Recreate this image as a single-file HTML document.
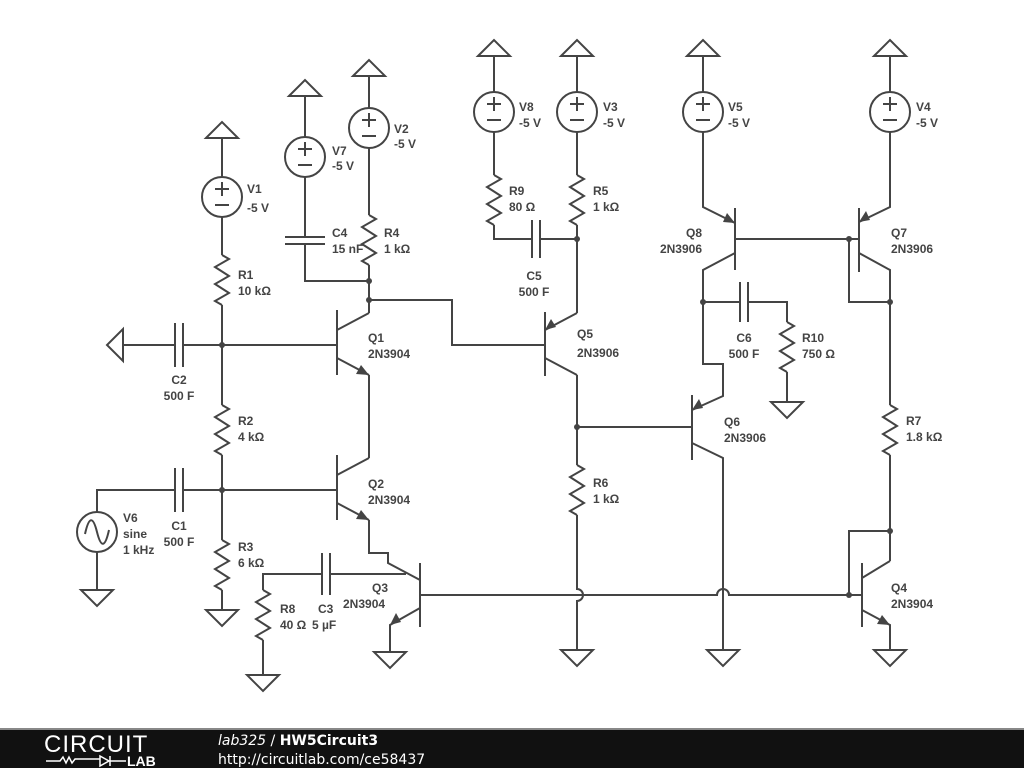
<!DOCTYPE html>
<html><head><meta charset="utf-8"><style>
html,body{margin:0;padding:0;background:#fff;width:1024px;height:768px;overflow:hidden}
svg{display:block}
text{font-family:"Liberation Sans",sans-serif;font-size:12px;font-weight:bold;fill:#444}
</style></head><body>
<svg width="1024" height="768" viewBox="0 0 1024 768" xmlns="http://www.w3.org/2000/svg">
<defs>
<polyline id="r" points="0,0 7,4 -7,12 7,21 -7,29 7,38 -7,46 0,50" fill="none"/>
<polygon id="sup" points="-16,16 0,0 16,16" fill="#fff"/>
<polygon id="gnd" points="-16,0 16,0 0,16" fill="#fff"/>
<g id="src"><circle cx="0" cy="0" r="20" fill="#fff"/><line x1="-7" y1="-8" x2="7" y2="-8"/><line x1="0" y1="-15" x2="0" y2="-1"/><line x1="-7" y1="8" x2="7" y2="8"/></g>
</defs>
<g stroke="#444" stroke-width="2" fill="none">
<use href="#sup" x="222" y="122"/><line x1="222" y1="138" x2="222" y2="177"/><use href="#src" x="222" y="197"/><line x1="222" y1="217" x2="222" y2="255"/><use href="#r" x="222" y="255"/>
<line x1="222" y1="305" x2="222" y2="405"/><use href="#r" x="222" y="405"/><line x1="222" y1="455" x2="222" y2="540"/><use href="#r" x="222" y="540"/><line x1="222" y1="590" x2="222" y2="610"/><use href="#gnd" x="222" y="610"/>
<use href="#sup" x="305" y="80"/><line x1="305" y1="96" x2="305" y2="137"/><use href="#src" x="305" y="157"/><line x1="305" y1="177" x2="305" y2="237"/>
<line x1="285" y1="237" x2="325" y2="237"/><line x1="285" y1="244" x2="325" y2="244"/><polyline points="305,244 305,281 369,281"/>
<use href="#sup" x="369" y="60"/><line x1="369" y1="76" x2="369" y2="108"/><use href="#src" x="369" y="128"/><line x1="369" y1="148" x2="369" y2="215"/><use href="#r" x="369" y="215"/><line x1="369" y1="265" x2="369" y2="313"/>
<polyline points="369,300 452,300 452,345 545,345"/>
<line x1="337" y1="310" x2="337" y2="375"/><line x1="222" y1="345" x2="337" y2="345"/><line x1="337" y1="330" x2="369" y2="313"/><line x1="337" y1="358" x2="369" y2="375"/><line x1="369" y1="375" x2="369" y2="458"/>
<use href="#gnd" transform="translate(123,345) rotate(90)"/><line x1="123" y1="345" x2="175" y2="345"/><line x1="175" y1="323" x2="175" y2="367"/><line x1="183" y1="323" x2="183" y2="367"/><line x1="183" y1="345" x2="222" y2="345"/>
<line x1="337" y1="455" x2="337" y2="520"/><line x1="222" y1="490" x2="337" y2="490"/><line x1="337" y1="475" x2="369" y2="458"/><line x1="337" y1="503" x2="369" y2="520"/><polyline points="369,520 369,553 388,553 388,563 420,580"/>
<polyline points="175,490 97,490 97,512"/><line x1="175" y1="468" x2="175" y2="512"/><line x1="183" y1="468" x2="183" y2="512"/><line x1="183" y1="490" x2="222" y2="490"/>
<circle cx="97" cy="532" r="20" fill="#fff"/><path d="M85,534 C89,516 93,516 97,532 C101,548 105,548 109,530"/><line x1="97" y1="552" x2="97" y2="590"/><use href="#gnd" x="97" y="590"/>
<line x1="420" y1="563" x2="420" y2="627"/><polyline points="420,608 390,625 390,652"/><use href="#gnd" x="390" y="652"/>
<polyline points="263,590 263,574 322,574"/><line x1="322" y1="553" x2="322" y2="595"/><line x1="330" y1="553" x2="330" y2="595"/><line x1="330" y1="574" x2="406" y2="574"/>
<use href="#r" x="263" y="590"/><line x1="263" y1="640" x2="263" y2="675"/><use href="#gnd" x="263" y="675"/>
<path d="M420,595 H717 A6,6 0 0 1 729,595 H862"/>
<use href="#sup" x="494" y="40"/><line x1="494" y1="56" x2="494" y2="92"/><use href="#src" x="494" y="112"/><line x1="494" y1="132" x2="494" y2="175"/><use href="#r" x="494" y="175"/><polyline points="494,225 494,239 532,239"/>
<line x1="532" y1="220" x2="532" y2="258"/><line x1="540" y1="220" x2="540" y2="258"/><line x1="540" y1="239" x2="577" y2="239"/>
<use href="#sup" x="577" y="40"/><line x1="577" y1="56" x2="577" y2="92"/><use href="#src" x="577" y="112"/><line x1="577" y1="132" x2="577" y2="175"/><use href="#r" x="577" y="175"/><line x1="577" y1="225" x2="577" y2="313"/>
<line x1="545" y1="312" x2="545" y2="376"/><line x1="545" y1="330" x2="577" y2="313"/><line x1="545" y1="358" x2="577" y2="375"/><line x1="577" y1="375" x2="577" y2="465"/><use href="#r" x="577" y="465"/><path d="M577,515 V589 A6,6 0 0 1 577,601 V650"/><use href="#gnd" x="577" y="650"/>
<line x1="577" y1="427" x2="692" y2="427"/><line x1="692" y1="395" x2="692" y2="460"/><polyline points="692,410 723,396 723,364 703,364 703,270 735,253"/><polyline points="692,443 723,458 723,650"/><use href="#gnd" x="723" y="650"/>
<line x1="703" y1="302" x2="740" y2="302"/><line x1="740" y1="282" x2="740" y2="322"/><line x1="748" y1="282" x2="748" y2="322"/><polyline points="748,302 787,302 787,322"/><use href="#r" x="787" y="322"/><line x1="787" y1="372" x2="787" y2="402"/><use href="#gnd" x="787" y="402"/>
<use href="#sup" x="703" y="40"/><line x1="703" y1="56" x2="703" y2="92"/><use href="#src" x="703" y="112"/><polyline points="703,132 703,207 735,223"/><line x1="735" y1="208" x2="735" y2="270"/><line x1="735" y1="239" x2="859" y2="239"/>
<use href="#sup" x="890" y="40"/><line x1="890" y1="56" x2="890" y2="92"/><use href="#src" x="890" y="112"/><polyline points="890,132 890,207 859,222"/><line x1="859" y1="208" x2="859" y2="272"/><polyline points="859,253 890,270 890,405"/><polyline points="849,239 849,302 890,302"/><use href="#r" x="890" y="405"/><line x1="890" y1="455" x2="890" y2="561"/>
<polyline points="890,531 849,531 849,595"/><line x1="862" y1="563" x2="862" y2="627"/><line x1="862" y1="578" x2="890" y2="561"/><polyline points="862,610 890,625 890,650"/><use href="#gnd" x="890" y="650"/>
</g>
<g fill="#444">
<circle cx="222" cy="345" r="3"/><circle cx="222" cy="490" r="3"/><circle cx="369" cy="281" r="3"/><circle cx="369" cy="300" r="3"/><circle cx="577" cy="239" r="3"/><circle cx="577" cy="427" r="3"/><circle cx="703" cy="302" r="3"/><circle cx="849" cy="239" r="3"/><circle cx="890" cy="302" r="3"/><circle cx="890" cy="531" r="3"/><circle cx="849" cy="595" r="3"/>
<polygon points="369,375 356,374 361,365"/><polygon points="369,520 356,519 361,510"/><polygon points="390,625 396,613 401,622"/>
<polygon points="545,330 551,319 556,327"/><polygon points="692,410 699,399 703,408"/><polygon points="735,223 723,222 727,213"/><polygon points="859,222 866,211 870,220"/><polygon points="890,625 877,624 882,615"/>
</g>
<text x="247" y="193">V1</text><text x="247" y="212">-5 V</text>
<text x="238" y="279">R1</text><text x="238" y="295">10 kΩ</text>
<text x="238" y="425">R2</text><text x="238" y="441">4 kΩ</text>
<text x="238" y="551">R3</text><text x="238" y="567">6 kΩ</text>
<text x="332" y="155">V7</text><text x="332" y="170">-5 V</text>
<text x="394" y="133">V2</text><text x="394" y="148">-5 V</text>
<text x="332" y="237">C4</text><text x="332" y="253">15 nF</text>
<text x="384" y="237">R4</text><text x="384" y="253">1 kΩ</text>
<text x="368" y="342">Q1</text><text x="368" y="358">2N3904</text>
<text x="368" y="488">Q2</text><text x="368" y="504">2N3904</text>
<text x="179" y="384" text-anchor="middle">C2</text><text x="179" y="400" text-anchor="middle">500 F</text>
<text x="179" y="530" text-anchor="middle">C1</text><text x="179" y="546" text-anchor="middle">500 F</text>
<text x="123" y="522">V6</text><text x="123" y="538">sine</text><text x="123" y="554">1 kHz</text>
<text x="372" y="592">Q3</text><text x="343" y="608">2N3904</text>
<text x="280" y="613">R8</text><text x="280" y="629">40 Ω</text><text x="318" y="613">C3</text><text x="312" y="629">5 µF</text>
<text x="519" y="111">V8</text><text x="519" y="127">-5 V</text>
<text x="603" y="111">V3</text><text x="603" y="127">-5 V</text>
<text x="509" y="195">R9</text><text x="509" y="211">80 Ω</text>
<text x="593" y="195">R5</text><text x="593" y="211">1 kΩ</text>
<text x="534" y="280" text-anchor="middle">C5</text><text x="534" y="296" text-anchor="middle">500 F</text>
<text x="577" y="338">Q5</text><text x="577" y="357">2N3906</text>
<text x="593" y="487">R6</text><text x="593" y="503">1 kΩ</text>
<text x="728" y="111">V5</text><text x="728" y="127">-5 V</text>
<text x="916" y="111">V4</text><text x="916" y="127">-5 V</text>
<text x="702" y="237" text-anchor="end">Q8</text><text x="702" y="253" text-anchor="end">2N3906</text>
<text x="891" y="237">Q7</text><text x="891" y="253">2N3906</text>
<text x="744" y="342" text-anchor="middle">C6</text><text x="744" y="358" text-anchor="middle">500 F</text>
<text x="802" y="342">R10</text><text x="802" y="358">750 Ω</text>
<text x="724" y="426">Q6</text><text x="724" y="442">2N3906</text>
<text x="906" y="425">R7</text><text x="906" y="441">1.8 kΩ</text>
<text x="891" y="592">Q4</text><text x="891" y="608">2N3904</text>
<rect x="0" y="729" width="1024" height="39" fill="#111"/>
<rect x="0" y="728" width="1024" height="2" fill="#888"/>
<text x="44" y="752" style="font-size:24px;font-weight:normal;fill:#fff;letter-spacing:1px">CIRCUIT</text>
<path d="M46,761 H60 l3,-4 3,6 3,-6 3,6 3,-4 H100 M100,756 v10 l9,-5 z M110,756 v10 M110,761 H126" stroke="#fff" stroke-width="1.5" fill="none"/>
<text x="127" y="766" style="font-size:14px;font-weight:bold;fill:#fff">LAB</text>
<text x="218" y="745" style="font-size:14px;font-weight:normal;fill:#fff;font-family:'DejaVu Sans',sans-serif"><tspan font-style="italic">lab325</tspan> / <tspan font-weight="bold">HW5Circuit3</tspan></text>
<text x="218" y="764" style="font-size:14px;font-weight:normal;fill:#fff;font-family:'DejaVu Sans',sans-serif">http://circuitlab.com/ce58437</text>
</svg>
</body></html>
